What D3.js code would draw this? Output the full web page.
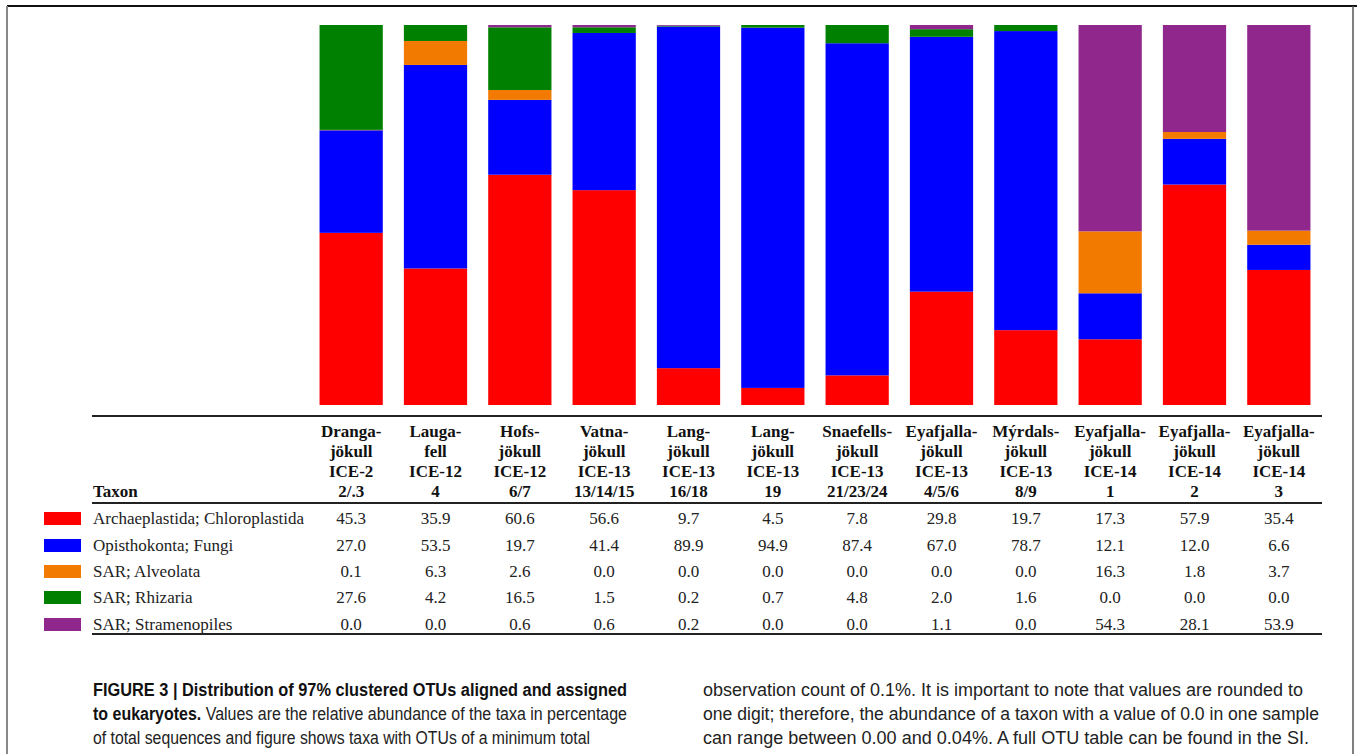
<!DOCTYPE html>
<html>
  <head>
    <script src="https://d3js.org/d3.v7.min.js"></script>
    <style>
    body { margin: 0; background: #fff; }
    .hdr text { font-family: "Liberation Serif", "Times New Roman", serif; font-weight: bold; font-size: 17px; fill: #111; }
    .cell { font-family: "Liberation Serif", "Times New Roman", serif; font-size: 17px; fill: #222; }
    .cap { font-family: "Liberation Sans", Arial, sans-serif; font-size: 17.5px; fill: #222; }
    </style>
  </head>
  <body>
    <script>

    // sample columns (header lines)
    var glaciers = ["Dranga-|jökull", "Lauga-|fell", "Hofs-|jökull", "Vatna-|jökull", "Lang-|jökull",
      "Lang-|jökull", "Snaefells-|jökull", "Eyafjalla-|jökull", "Mýrdals-|jökull",
      "Eyafjalla-|jökull", "Eyafjalla-|jökull", "Eyafjalla-|jökull"];
    var campaigns = ["ICE-2", "ICE-12", "ICE-12", "ICE-13", "ICE-13", "ICE-13", "ICE-13",
      "ICE-13", "ICE-13", "ICE-14", "ICE-14", "ICE-14"];
    var samples = ["2/.3", "4", "6/7", "13/14/15", "16/18", "19", "21/23/24", "4/5/6", "8/9", "1", "2", "3"];

    // taxa, bottom of stack first
    var taxa = ["Archaeplastida; Chloroplastida", "Opisthokonta; Fungi", "SAR; Alveolata",
      "SAR; Rhizaria", "SAR; Stramenopiles"];
    var colors = ["#ff0000", "#0000ff", "#f27a00", "#008000", "#8f278c"];

    // relative abundance (%) per taxon
    var chloroplastida = [45.3, 35.9, 60.6, 56.6, 9.7, 4.5, 7.8, 29.8, 19.7, 17.3, 57.9, 35.4];
    var fungi = [27.0, 53.5, 19.7, 41.4, 89.9, 94.9, 87.4, 67.0, 78.7, 12.1, 12.0, 6.6];
    var alveolata = [0.1, 6.3, 2.6, 0.0, 0.0, 0.0, 0.0, 0.0, 0.0, 16.3, 1.8, 3.7];
    var rhizaria = [27.6, 4.2, 16.5, 1.5, 0.2, 0.7, 4.8, 2.0, 1.6, 0.0, 0.0, 0.0];
    var stramenopiles = [0.0, 0.0, 0.6, 0.6, 0.2, 0.0, 0.0, 1.1, 0.0, 54.3, 28.1, 53.9];
    var series = [chloroplastida, fungi, alveolata, rhizaria, stramenopiles];

    var w = 1357, h = 754;
    var svg = d3.select("body").append("svg").attr("width", w).attr("height", h);

    // frame
    svg.append("line").attr("x1", 7).attr("x2", w).attr("y1", 6).attr("y2", 6)
      .attr("stroke", "#111").attr("stroke-width", 2);
    svg.append("line").attr("x1", 7).attr("x2", 7).attr("y1", 6).attr("y2", h)
      .attr("stroke", "#888").attr("stroke-width", 2);
    svg.append("line").attr("x1", 1353).attr("x2", 1353).attr("y1", 6).attr("y2", h)
      .attr("stroke", "#555").attr("stroke-width", 1.5);

    // table of rows -> used by d3.stack
    var rows = samples.map(function(s, i) {
      var r = { idx: i };
      taxa.forEach(function(t, k) { r[t] = series[k][i]; });
      return r;
    });

    var x = d3.scaleBand()
      .domain(d3.range(samples.length))
      .range([309, 1321])
      .paddingInner(0.25)
      .paddingOuter(0.125);

    var y = d3.scaleLinear().domain([0, 1]).range([405, 25]);

    var stack = d3.stack().keys(taxa).offset(d3.stackOffsetExpand);
    var layers = stack(rows);

    svg.append("g").selectAll("g")
      .data(layers)
      .enter().append("g")
      .attr("fill", function(d, k) { return colors[k]; })
      .selectAll("rect")
      .data(function(d) { return d; })
      .enter().append("rect")
      .attr("x", function(d) { return x(d.data.idx); })
      .attr("width", x.bandwidth())
      .attr("y", function(d) { return y(d[1]); })
      .attr("height", function(d) { return y(d[0]) - y(d[1]); });

    // table rules
    var tx0 = 92, tx1 = 1322;
    [416, 503, 634].forEach(function(yy) {
      svg.append("line").attr("x1", tx0).attr("x2", tx1).attr("y1", yy).attr("y2", yy)
        .attr("stroke", "#222").attr("stroke-width", 2);
    });

    // header
    var hdr = svg.append("g").attr("class", "hdr");
    var hdrY = [437, 457, 477, 497];
    samples.forEach(function(s, i) {
      var cx = x(i) + x.bandwidth() / 2;
      var lines = glaciers[i].split("|").concat([campaigns[i], s]);
      lines.forEach(function(t, j) {
        hdr.append("text").attr("x", cx).attr("y", hdrY[j])
          .attr("text-anchor", "middle").text(t);
      });
    });
    hdr.append("text").attr("x", 93).attr("y", 497).text("Taxon");

    // body rows
    var rowY = [524, 551, 577, 603, 630];
    taxa.forEach(function(t, k) {
      svg.append("rect").attr("x", 44).attr("y", rowY[k] - 12)
        .attr("width", 37).attr("height", 13).attr("fill", colors[k]);
      svg.append("text").attr("class", "cell").attr("x", 93).attr("y", rowY[k]).text(t);
      series[k].forEach(function(v, i) {
        svg.append("text").attr("class", "cell")
          .attr("x", x(i) + x.bandwidth() / 2).attr("y", rowY[k])
          .attr("text-anchor", "middle").text(v.toFixed(1));
      });
    });

    // caption
    var cap = svg.append("g").attr("class", "cap");
    cap.append("text").attr("x", 93).attr("y", 696)
      .attr("textLength", 534).attr("lengthAdjust", "spacingAndGlyphs")
      .attr("font-weight", "bold").attr("fill", "#111")
      .text("FIGURE 3 | Distribution of 97% clustered OTUs aligned and assigned");
    var c2 = cap.append("text").attr("x", 93).attr("y", 720)
      .attr("textLength", 534).attr("lengthAdjust", "spacingAndGlyphs");
    c2.append("tspan").attr("font-weight", "bold").attr("fill", "#111").text("to eukaryotes.");
    c2.append("tspan").text(" Values are the relative abundance of the taxa in percentage");
    cap.append("text").attr("x", 93).attr("y", 744)
      .attr("textLength", 497).attr("lengthAdjust", "spacingAndGlyphs")
      .text("of total sequences and figure shows taxa with OTUs of a minimum total");

    var right = [
      ["observation count of 0.1%. It is important to note that values are rounded to", 600],
      ["one digit; therefore, the abundance of a taxon with a value of 0.0 in one sample", 616],
      ["can range between 0.00 and 0.04%. A full OTU table can be found in the SI.", 606]
    ];
    right.forEach(function(r, j) {
      cap.append("text").attr("x", 703).attr("y", 696 + j * 24)
        .attr("textLength", r[1]).attr("lengthAdjust", "spacingAndGlyphs")
        .text(r[0]);
    });

    </script>
  </body>
</html>
